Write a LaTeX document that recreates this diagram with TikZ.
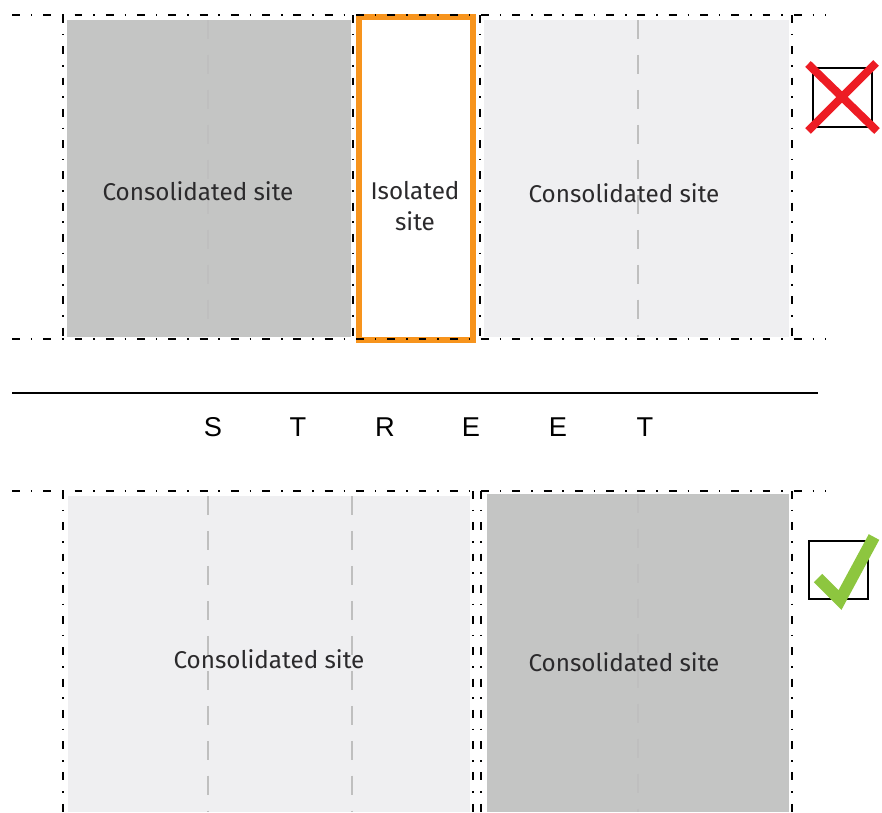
\documentclass[tikz,border=0pt]{standalone}
\usepackage{fontspec}
\setsansfont{Fira Sans}
\newfontfamily\streetfont{Liberation Sans}
\usetikzlibrary{positioning}
\definecolor{lotdark}{HTML}{C4C5C4}
\definecolor{lotlight}{HTML}{EFEFF1}
\definecolor{isoorange}{HTML}{F7941D}
\definecolor{crossred}{HTML}{ED1C24}
\definecolor{tickgreen}{HTML}{8DC63F}
\definecolor{inkgray}{HTML}{2B2A2C}
\tikzset{
    bound/.style = {draw=black, line width=1.2pt, dash pattern=on 4.5pt off 6.2pt on 0.9pt off 6.2pt},
    plotline/.style = {draw=black!25, line width=1.1pt, dash pattern=on 10.8pt off 9.1pt},
    lotd/.style = {fill=lotdark},
    lotl/.style = {fill=lotlight},
    isolot/.style = {draw=isoorange, line width=3.4pt, fill=white},
    sitelabel/.style = {font=\sffamily\fontsize{13.8}{18}\selectfont, text=inkgray, align=center},
    streetlabel/.style = {font=\streetfont\fontsize{15.5}{18}\selectfont},
    markbox/.style = {draw=black, line width=1.1pt},
    crossline/.style = {draw=crossred, line width=4.6pt},
    tickline/.style = {draw=tickgreen, line width=6.8pt, miter limit=10}
}

\begin{document}
\begin{tikzpicture}[x=0.02cm, y=-0.02cm]
  \useasboundingbox (0,0) rectangle (882,812);

  % top row of lots
  \fill[lotd] (67,20) rectangle (351,337);
  \fill[lotl] (484,20) rectangle (789,337);
  \draw[isolot] (359,17) rectangle (473,340);
  \draw[plotline] (208,20) -- (208,337);
  \draw[plotline] (638,20) -- (638,337);
  \draw[bound] (12,15) -- (826,15);
  \draw[bound] (12,339) -- (826,339);
  \foreach \xb in {63,353,480,792}
    \draw[bound] (\xb,15) -- (\xb,339);

  \node[sitelabel] (consa) at (198,191) {Consolidated site};
  \node[sitelabel] (isol) at (415,206) {Isolated\\site};
  \node[sitelabel] (consb) at (624,193) {Consolidated site};

  % red cross
  \draw[markbox] (813,68) rectangle (872,127);
  \coordinate (xa) at (808,64);
  \coordinate (xb) at (877,131);
  \coordinate (xc) at (876,63);
  \coordinate (xd) at (808,131);
  \draw[crossline] (xa) -- (xb);
  \draw[crossline] (xc) -- (xd);

  % street
  \coordinate (sl) at (12,393);
  \coordinate (sr) at (818,393);
  \draw[line width=1.1pt] (sl) -- (sr);
  \foreach \ch/\xs [count=\i] in {S/213,T/298,R/385,E/471,E/558,T/645}
    \node[streetlabel] (st\i) at (\xs,427) {\ch};

  % bottom row of lots
  \fill[lotl] (68,496) rectangle (470,812);
  \fill[lotd] (487,494) rectangle (789,812);
  \draw[plotline] (208,496) -- (208,812);
  \draw[plotline] (352,496) -- (352,812);
  \draw[plotline] (638,494) -- (638,812);
  \draw[bound] (12,491) -- (826,491);
  \foreach \xb in {63,473,481,792}
    \draw[bound] (\xb,491) -- (\xb,812);

  \node[sitelabel] (consc) at (269,659) {Consolidated site};
  \node[sitelabel] (consd) at (624,662) {Consolidated site};

  % green tick
  \draw[markbox] (809,541) rectangle (868,599);
  \coordinate (ta) at (818,578);
  \coordinate (tb) at (840,600);
  \coordinate (tc) at (874,537);
  \draw[tickline] (ta) -- (tb) -- (tc);
\end{tikzpicture}
\end{document}
